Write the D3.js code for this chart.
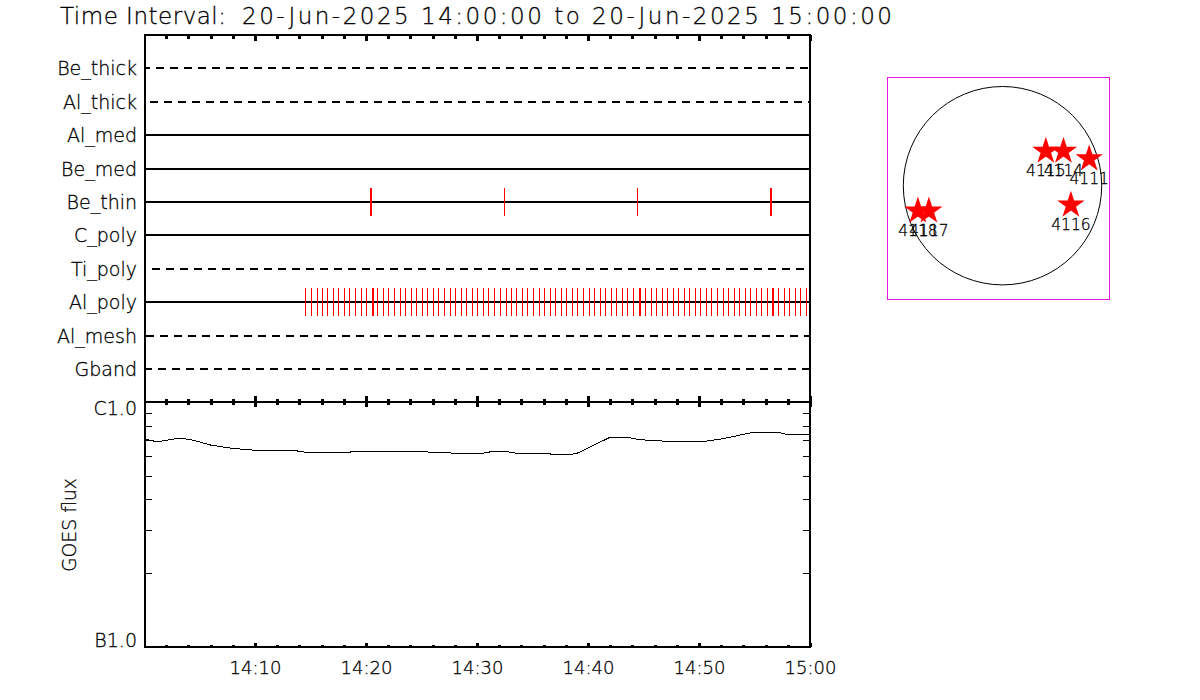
<!DOCTYPE html>
<html>
<head>
<meta charset="utf-8">
<script src="https://cdn.jsdelivr.net/npm/d3@7"></script>
<style>
  body { margin: 0; background: white; }
  text { font-family: "DejaVu Sans", sans-serif; font-weight: 200; fill: black; stroke: black; stroke-width: 0.3; }
</style>
</head>
<body>
<svg></svg>
<script>
const w = 1200
const h = 700

const titleLead = "Time Interval: "
const titleRange = "20-Jun-2025 14:00:00 to 20-Jun-2025 15:00:00"

// filter rows, top to bottom
const channels = ["Be_thick", "Al_thick", "Al_med", "Be_med", "Be_thin", "C_poly", "Ti_poly", "Al_poly", "Al_mesh", "Gband"]
const dashedChannels = ["Be_thick", "Al_thick", "Ti_poly", "Al_mesh", "Gband"]

// exposure times, seconds after 14:00:00
const beThinThick = [1225, 3389]
const beThinThin = [1947, 2666]
const alPolyThick = [1234, 2681, 3398]
const alPolyThin = [
  870, 904, 933, 964, 991, 1023, 1050, 1083, 1110, 1142, 1173, 1202, 1261, 1293, 1320,
  1351, 1385, 1412, 1445, 1472, 1503, 1530, 1564, 1591, 1623, 1654, 1683, 1713, 1742,
  1773, 1801, 1832, 1861, 1893, 1924, 1957, 1984, 2012, 2045, 2072, 2104, 2135, 2164,
  2196, 2223, 2256, 2283, 2315, 2342, 2374, 2407, 2434, 2466, 2493, 2526, 2553, 2585,
  2612, 2645, 2710, 2742, 2769, 2801, 2828, 2861, 2888, 2920, 2947, 2980, 3007, 3039,
  3066, 3099, 3129, 3158, 3189, 3218, 3248, 3277, 3309, 3337, 3369, 3428, 3461, 3488,
  3520, 3547, 3580,
]

// GOES light curve
const goesTimes = [
  0, 69, 185, 249, 357, 447, 573, 805, 879, 1113, 1122, 1528, 1537, 1654, 1663, 1831,
  1888, 1951, 2014, 2194, 2198, 2312, 2347, 2519, 2609, 2690, 2789, 2805, 3032, 3129,
  3292, 3427, 3474, 3600,
]
const goesFlux = [
  7.08e-7, 6.88e-7, 7.11e-7, 7.04e-7, 6.68e-7, 6.51e-7, 6.37e-7, 6.35e-7, 6.23e-7, 6.23e-7,
  6.29e-7, 6.29e-7, 6.23e-7, 6.21e-7, 6.18e-7, 6.18e-7, 6.29e-7, 6.29e-7, 6.18e-7, 6.18e-7,
  6.12e-7, 6.12e-7, 6.2e-7, 7.18e-7, 7.18e-7, 7.0e-7, 6.98e-7, 6.91e-7, 6.91e-7, 7.08e-7,
  7.52e-7, 7.52e-7, 7.38e-7, 7.38e-7,
]

const timeMajor = [600, 1200, 1800, 2400, 3000, 3600]
const timeLabels = ["14:10", "14:20", "14:30", "14:40", "14:50", "15:00"]
const timeMinor = [
  120, 240, 360, 480, 720, 840, 960, 1080, 1320, 1440, 1560, 1680, 1920, 2040, 2160, 2280,
  2520, 2640, 2760, 2880, 3120, 3240, 3360, 3480,
]
const fluxMajor = [1e-6, 1e-7]
const fluxLabels = ["C1.0", "B1.0"]
const fluxMinor = [9e-7, 8e-7, 7e-7, 6e-7, 5e-7, 4e-7, 3e-7, 2e-7]

// active regions on the disc, arcsec from sun centre (y up)
const regionNames = ["4115", "4114", "4111", "4116", "4118", "4117"]
const regionX = [415, 584, 830, 655, -810, -705]
const regionY = [331, 331, 258, -185, -242, -242]

const svg = d3.select("svg").attr("width", w).attr("height", h).style("display", "block")

const x = d3.scaleLinear().domain([0, 3600]).range([144, 810])
const yRow = d3.scaleLinear().domain([0, channels.length + 1]).range([35, 402.5])
const yFlux = d3.scaleLog().domain([1e-7, 1e-6]).range([647, 402])
const rowY = (name) => Math.round(yRow(channels.indexOf(name) + 1))

// time ticks sit on every horizontal edge of both panels
const timeAxis = (axis, y, majorLen, minorLen, labels) => {
  const major = svg.append("g").attr("transform", `translate(0,${y})`)
    .call(axis(x).tickValues(timeMajor).tickSize(majorLen).tickSizeOuter(0)
      .tickPadding(15).tickFormat((d, i) => (labels ? labels[i] : "")))
  const minor = svg.append("g").attr("transform", `translate(0,${y})`)
    .call(axis(x).tickValues(timeMinor).tickSize(minorLen).tickSizeOuter(0).tickFormat(""))
  for (const g of [major, minor]) {
    g.selectAll("line").attr("stroke-width", 3).attr("shape-rendering", "crispEdges")
    g.select(".domain").attr("stroke-width", 2).attr("shape-rendering", "crispEdges")
  }
  major.selectAll("text").attr("font-size", 18).attr("font-family", null)
}

timeAxis(d3.axisBottom, 34.5, 6, 4)
timeAxis(d3.axisTop, 401.5, 6, 3)
timeAxis(d3.axisBottom, 401.5, 5, 3)
timeAxis(d3.axisTop, 646.5, 4, 2)
timeAxis(d3.axisBottom, 646.5, 0, 0, timeLabels)

// left and right edges
const leftEdge = svg.append("g").attr("transform", "translate(144.5,0)")
  .call(d3.axisRight(yFlux).tickValues(fluxMinor).tickSize(7).tickSizeOuter(0).tickFormat(""))
const rightEdge = svg.append("g").attr("transform", "translate(809.5,0)")
  .call(d3.axisLeft(yFlux).tickValues(fluxMinor).tickSize(7).tickSizeOuter(0).tickFormat(""))
for (const g of [leftEdge, rightEdge]) {
  g.select(".domain").remove()
  g.selectAll("line").attr("stroke-width", 1).attr("shape-rendering", "crispEdges")
}
for (const ex of [145, 810]) {
  svg.append("line").attr("x1", ex).attr("x2", ex)
    .attr("y1", yRow.range()[0] - 1).attr("y2", yFlux.range()[0] + 1)
    .attr("stroke", "black").attr("stroke-width", 2).attr("shape-rendering", "crispEdges")
}

// C1.0 and B1.0
const fluxLabelAxis = svg.append("g").attr("transform", "translate(144,0)")
  .call(d3.axisLeft(yFlux).tickValues(fluxMajor).tickSize(0).tickPadding(7)
    .tickFormat((d, i) => fluxLabels[i]))
fluxLabelAxis.select(".domain").remove()
fluxLabelAxis.selectAll("text").attr("font-size", 19).attr("font-family", null)
  .attr("dy", (d, i) => (i === 0 ? 12 : -1))

svg.append("text")
  .attr("transform", "translate(76,525) rotate(-90)")
  .attr("text-anchor", "middle")
  .attr("font-size", 18.8)
  .text("GOES flux")

// channel rows
svg.selectAll(".row-label")
  .data(channels)
  .enter()
  .append("text")
  .attr("class", "row-label")
  .attr("x", 137)
  .attr("y", (d) => rowY(d) + 7)
  .attr("text-anchor", "end")
  .attr("font-size", 19)
  .text((d) => d)

// dash phase differs per row because each one restarts with its own data gaps
const dashPhase = { Be_thick: 2, Al_thick: 8, Ti_poly: 6, Al_mesh: 12, Gband: 0 }

svg.selectAll(".row-line")
  .data(channels)
  .enter()
  .append("line")
  .attr("class", "row-line")
  .attr("x1", x(0))
  .attr("x2", x(3600))
  .attr("y1", rowY)
  .attr("y2", rowY)
  .attr("stroke", "black")
  .attr("stroke-width", 2)
  .attr("stroke-dasharray", (d) => (dashedChannels.includes(d) ? "8 6" : null))
  .attr("stroke-dashoffset", (d) => dashPhase[d] || 0)
  .attr("shape-rendering", "crispEdges")

const drawExposures = (name, times, width) => {
  svg.append("g")
    .selectAll("line")
    .data(times)
    .enter()
    .append("line")
    .attr("x1", (d) => x(d) + 0.5)
    .attr("x2", (d) => x(d) + 0.5)
    .attr("y1", rowY(name) - 14)
    .attr("y2", rowY(name) + 14)
    .attr("stroke", "#ff0000")
    .attr("stroke-width", width)
    .attr("shape-rendering", "crispEdges")
}
drawExposures("Be_thin", beThinThin, 1)
drawExposures("Be_thin", beThinThick, 2)
drawExposures("Al_poly", alPolyThin, 1)
drawExposures("Al_poly", alPolyThick, 2)

// GOES curve
const goesLine = d3.line()
  .x((d, i) => x(goesTimes[i]))
  .y((d) => yFlux(d))
svg.append("path")
  .attr("d", goesLine(goesFlux))
  .attr("fill", "none")
  .attr("stroke", "black")
  .attr("stroke-width", 1)
  .attr("shape-rendering", "crispEdges")

const titleText = svg.append("text").attr("y", 24).attr("font-size", 23)
titleText.append("tspan").attr("x", 60).attr("textLength", 166).text(titleLead.trim())
titleText.append("tspan").text(" ").attr("font-size", 1)
titleText.append("tspan").attr("x", 242).attr("textLength", 650).text(titleRange)

// sun disc inset
const sunX = d3.scaleLinear().domain([-950, 950]).range([1002.5 - 99.2, 1002.5 + 99.2])
const sunY = d3.scaleLinear().domain([-950, 950]).range([185.7 + 99.2, 185.7 - 99.2])

svg.append("rect")
  .attr("x", 887.5)
  .attr("y", 77.5)
  .attr("width", 222)
  .attr("height", 222)
  .attr("fill", "none")
  .attr("stroke", "#e815e8")
  .attr("shape-rendering", "crispEdges")

svg.append("circle")
  .attr("cx", sunX(0))
  .attr("cy", sunY(0))
  .attr("r", sunX(950) - sunX(0))
  .attr("fill", "none")
  .attr("stroke", "black")
  .attr("stroke-width", 1)

const star = d3.symbol().type(d3.symbolStar).size(160)
svg.selectAll(".region")
  .data(regionNames)
  .enter()
  .append("path")
  .attr("class", "region")
  .attr("d", star)
  .attr("transform", (d, i) => `translate(${sunX(regionX[i])},${sunY(regionY[i])})`)
  .attr("fill", "#ff0000")
  .attr("stroke", "#ff0000")
  .attr("stroke-width", 1.5)

svg.selectAll(".region-label")
  .data(regionNames)
  .enter()
  .append("text")
  .attr("class", "region-label")
  .attr("x", (d, i) => sunX(regionX[i]))
  .attr("y", (d, i) => sunY(regionY[i]) + 25)
  .attr("text-anchor", "middle")
  .attr("font-size", 15.5)
  .text((d) => d)
</script>
</body>
</html>
